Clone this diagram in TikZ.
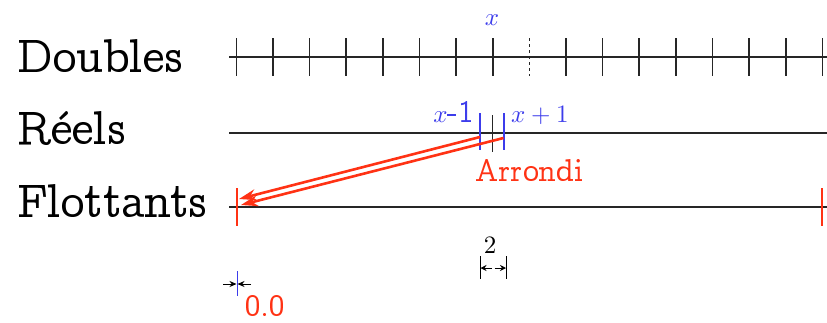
\documentclass[tikz,border=0pt]{standalone}
\usetikzlibrary{arrows.meta}
\definecolor{myblue}{RGB}{60,60,235}
\definecolor{myred}{RGB}{255,50,20}
\IfFileExists{ot1ccr.fd}{%
  \DeclareFontFamily{OT1}{myccr}{\hyphenchar\font=-1 }%
  \DeclareFontShape{OT1}{myccr}{m}{n}{<-> ccr10}{}%
  \newcommand\slabfont{\fontencoding{OT1}\fontfamily{myccr}\selectfont}}{\newcommand\slabfont{}}
\DeclareFontFamily{OML}{mycmm}{\skewchar\font=127 }
\DeclareFontShape{OML}{mycmm}{m}{it}{<-> cmmi10}{}
\DeclareFontFamily{OT1}{mycmr}{\hyphenchar\font=-1 }
\DeclareFontShape{OT1}{mycmr}{m}{n}{<-> cmr10}{}
\newcommand\mathsz{\fontsize{25}{28}\selectfont}
\newcommand\vx{{\fontencoding{OML}\fontfamily{mycmm}\fontshape{it}\mathsz\selectfont x}}
\newcommand\vr[1]{{\fontencoding{OT1}\fontfamily{mycmr}\fontshape{n}\mathsz\selectfont #1}}
\begin{document}
\begin{tikzpicture}[x=1pt,y=-1pt,
  axis/.style={line width=1.2pt,black!85},
  tick/.style={line width=1.4pt,black!85},
  lbl/.style={font=\fontsize{47.3}{50}\selectfont\slabfont,anchor=base west,inner sep=0pt},
  small/.style={font=\fontsize{31.5}{34}\selectfont\slabfont,inner sep=0pt},
  bluetick/.style={line width=2pt,myblue},
  redtick/.style={line width=1.5pt,myred},
  redarrow/.style={line width=2.6pt,myred,-{Stealth[length=17pt,width=11pt]}}]
\useasboundingbox (0,0) rectangle (827,322);
% labels
\node[lbl] (ldouble) at (17,72) {Doubles};
\node[lbl] (lreel) at (17,144) {R\'eels};
\node[lbl] (lflot) at (17,217) {Flottants};
% axes
\coordinate (d0) at (229,57); \coordinate (d1) at (827,57);
\coordinate (r0) at (229,133); \coordinate (r1) at (827,133);
\coordinate (f0) at (229,207); \coordinate (f1) at (827,207);
\draw[axis] (d0) -- (d1);
\draw[axis] (r0) -- (r1);
\draw[axis] (f0) -- (f1);
% doubles ticks
\foreach \px in {236.5,273,309.5,346,383,419.5,456,493,566,602.5,639,676,712.5,749,786,822.5} {
  \draw[tick] (\px,38) -- (\px,76);
}
\draw[tick,dash pattern=on 3pt off 3pt] (529.5,38) -- (529.5,76);
\node[small,anchor=base,text=myblue] (xl) at (492,25) {\vx};
% reels ticks
\coordinate (xm) at (480,133); \coordinate (xp) at (503.5,133);
\draw[bluetick] (480,113) -- (480,150);
\draw[tick,line width=0.9pt] (492,115) -- (492,152);
\draw[bluetick] (503.5,113) -- (503.5,150);
\node[small,text=myblue,anchor=base east] (xml) at (474,122) {\vx-1};
\node[small,text=myblue,anchor=base west] (xpl) at (511,122) {\vx\vr{\hspace{0.222em}+\hspace{0.222em}1}};
\node[small,text=myred,anchor=base west] (arr) at (475,181) {Arrondi};
% flottants ticks
\draw[redtick] (237,188) -- (237,226);
\draw[redtick] (822,188) -- (822,226);
\coordinate (t1) at (239,199); \coordinate (t2) at (241,205);
\draw[redarrow] (480,137) -- (t1);
\draw[redarrow] (503.5,138) -- (t2);
% dimension 2
\draw[line width=0.9pt] (480,256) -- (480,279);
\draw[line width=0.9pt] (506.5,256) -- (506.5,279);
\coordinate (a2) at (480.5,268); \coordinate (b2) at (506,268);
\draw[line width=0.8pt,-{Stealth[length=6pt,width=6pt]}] (492,268) -- (a2);
\draw[line width=0.8pt,-{Stealth[length=6pt,width=6pt]}] (494.5,268) -- (b2);
\node[small,anchor=base] (two) at (490,253) {\vr{2}};
% dimension 0.0
\draw[myblue,line width=0.8pt] (237,271) -- (237,296);
\coordinate (a0) at (236.5,284); \coordinate (b0) at (237.5,284);
\draw[line width=0.8pt,-{Stealth[length=7pt,width=6pt]}] (223,284) -- (a0);
\draw[line width=0.8pt,-{Stealth[length=7pt,width=6pt]}] (251,284) -- (b0);
\node[small,text=myred,anchor=base west] (zero) at (245,316) {0.0};
\end{tikzpicture}
\end{document}
